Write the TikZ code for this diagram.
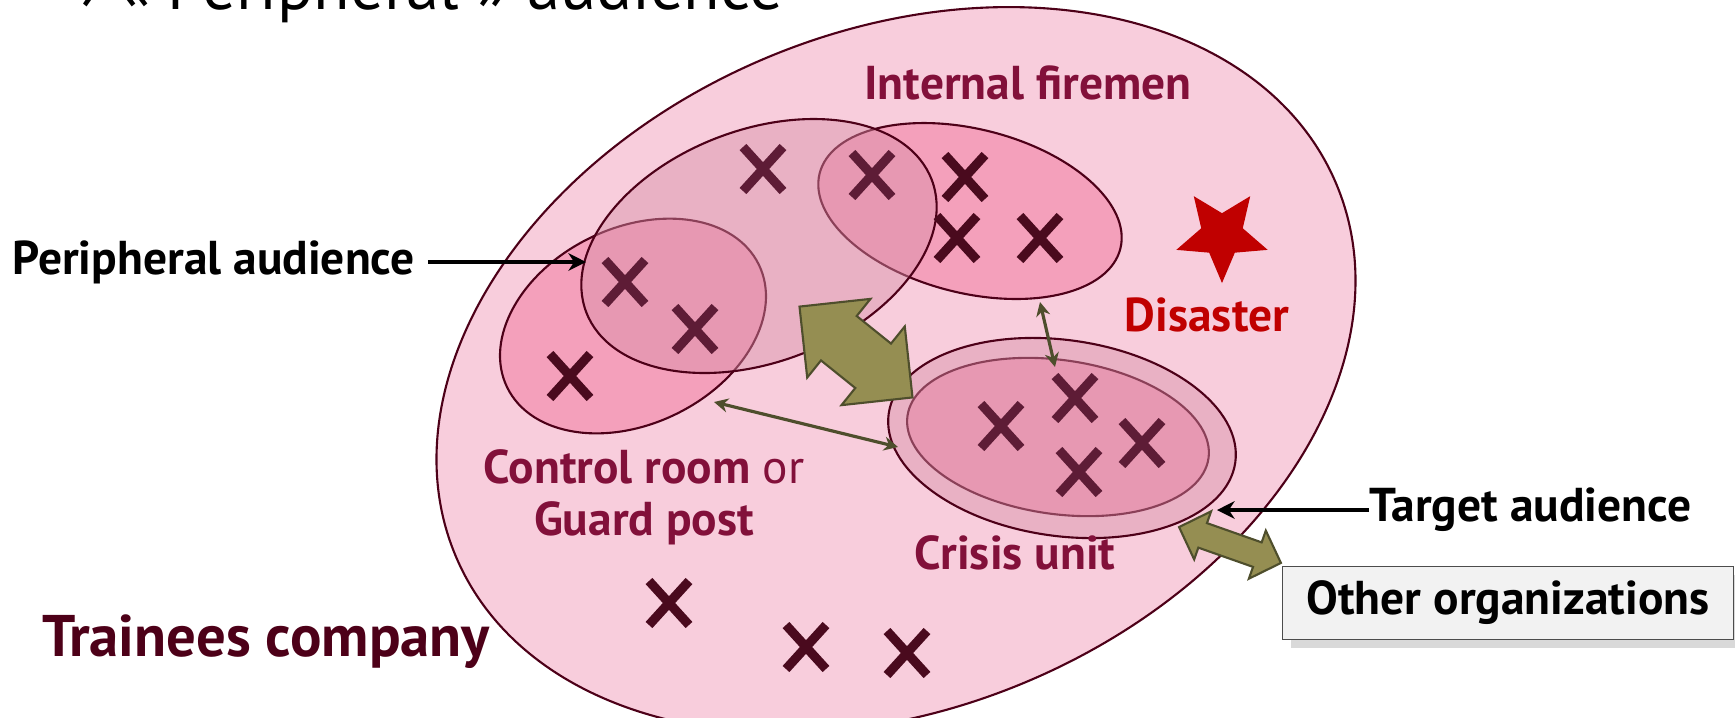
\documentclass[tikz,border=0pt]{standalone}
\usepackage{fontspec}
\setmainfont{PT Sans}
\usepackage{tikz}
\usetikzlibrary{shapes,shapes.geometric,shadows,arrows.meta}

\definecolor{edge}{HTML}{4D0018}
\definecolor{bigpink}{HTML}{F8CDDC}
\definecolor{zonepink}{HTML}{F4A0BB}
\definecolor{veilpink}{HTML}{D890A8}
\definecolor{labelred}{HTML}{82103A}
\definecolor{disasterred}{HTML}{C00000}
\definecolor{companyred}{HTML}{4D0018}
\definecolor{crossdark}{HTML}{4A0A1E}
\definecolor{crossmuted}{HTML}{5E1C36}
\definecolor{olivefill}{HTML}{958E52}
\definecolor{olivedark}{HTML}{4E4E2C}
\definecolor{boxgray}{HTML}{F2F2F2}

\begin{document}
\begin{tikzpicture}[x=0.01cm,y=-0.01cm]
    \tikzstyle{zone} = [
      draw=edge,
      line width=0.6pt,
    ]
    \tikzstyle{veil} = [
      zone,
      fill=veilpink,
      fill opacity=0.45,
    ]
    \tikzstyle{tag} = [
      font=\fontsize{13.5}{14.8}\selectfont\bfseries,
      inner sep=0pt,
    ]
    \tikzstyle{pointer} = [
      line width=1.3pt,
      ->,
      >={Stealth[length=5pt,width=5pt]},
      draw=black,
    ]
    \tikzstyle{link} = [
      line width=0.9pt,
      <->,
      >={Stealth[length=4pt,width=4pt]},
      draw=olivedark,
    ]
    \tikzstyle{swap} = [
      draw=olivedark,
      fill=olivefill,
      line width=0.6pt,
      line join=miter,
    ]
    \tikzstyle{cross} = [
      line width=2.6pt,
    ]

    \newcommand{\trainee}[3]{\draw[cross,#3] (#1-20,#2-22) -- (#1+20,#2+22) (#1-20,#2+22) -- (#1+20,#2-22);}

    \useasboundingbox (0,0) rectangle (1735,717);

    % company and groups
    \draw[zone, fill=bigpink, rotate around={23:(896,370)}] (896,370) ellipse [x radius=478, y radius=338];
    \draw[zone, fill=zonepink, rotate around={26:(633,326)}] (633,326) ellipse [x radius=140, y radius=98];
    \draw[zone, fill=zonepink, rotate around={-14:(970,211)}] (970,211) ellipse [x radius=155, y radius=82];
    \draw[veil, rotate around={21:(759,246)}] (759,246) ellipse [x radius=185, y radius=116];
    \draw[zone, fill=zonepink, rotate around={-8:(1058,437)}] (1058,437) ellipse [x radius=152, y radius=77];
    \draw[veil, rotate around={-8:(1062,438)}] (1062,438) ellipse [x radius=175, y radius=98];

    % trainees
    \foreach \x/\y in {965/177, 957/238, 1040/238, 570/376, 669/603, 806/647, 907/653}
      \trainee{\x}{\y}{crossdark};
    \foreach \x/\y in {763/169, 872/175, 625/282, 695/329, 1001/426, 1075/398, 1142/443, 1079/472}
      \trainee{\x}{\y}{crossmuted};

    % exchanges
    \draw[swap, shift={(856,352)}, rotate=-38.8] (-72.5,0) -- (-22,-50.5) -- (-22,-28.5) -- (22,-28.5) -- (22,-50.5)
      -- (72.5,0) -- (22,50.5) -- (22,28.5) -- (-22,28.5) -- (-22,50.5) -- cycle;
    \draw[swap, shift={(1230,545)}, rotate=-19.4] (-54,0) -- (-29,-25.5) -- (-29,-13) -- (29,-13) -- (29,-25.5)
      -- (54,0) -- (29,25.5) -- (29,13) -- (-29,13) -- (-29,25.5) -- cycle;

    \coordinate (ctrlend) at (714,402);
    \coordinate (crisisleft) at (898,447);
    \coordinate (firemenend) at (1040,302);
    \coordinate (crisistop) at (1055,367);
    \draw[link] (ctrlend) -- (crisisleft);
    \draw[link] (firemenend) -- (crisistop);

    % labels
    \node[font=\fontsize{19}{22}\selectfont, anchor=base west] (title) at (68,9) {› « Peripheral » audience};
    \node[tag, text=labelred] (firemen) at (1028,83) {Internal firemen};
    \node[tag, text=disasterred] (disaster) at (1207,315) {Disaster};
    \node[star, star points=5, star point ratio=2.2, shape border rotate=180, fill=disasterred, minimum size=0.96cm, inner sep=0pt] (blast) at (1222,235) {};
    \node[tag, text=labelred, align=center] (control) at (644,497) {Control room {\mdseries or}\\Guard post};
    \node[tag, text=labelred] (crisis) at (1015,553) {Crisis unit};
    \node[font=\fontsize{16.7}{19}\selectfont\bfseries, text=companyred] (company) at (266,642) {Trainees company};

    \node[tag, anchor=west] (periphtext) at (12,262) {Peripheral audience};
    \node[tag, anchor=west] (targettext) at (1369,510) {Target audience};
    \node[tag, draw=black!70, fill=boxgray, minimum width=4.51cm, minimum height=0.73cm, drop shadow={opacity=0.3}] (others) at (1508,603) {Other organizations};

    \coordinate (periphedge) at (586,262);
    \coordinate (targetedge) at (1217,510);
    \draw[pointer] ([xshift=3.5pt] periphtext.east) -- (periphedge);
    \draw[pointer] (targettext.west) -- (targetedge);
  \end{tikzpicture}
\end{document}
